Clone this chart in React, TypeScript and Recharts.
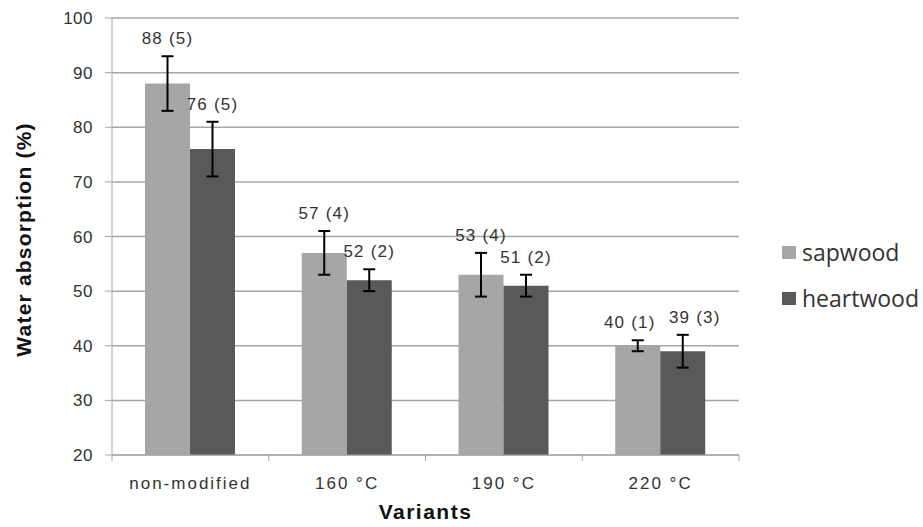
import { BarChart, Bar, XAxis, YAxis, CartesianGrid, ErrorBar, LabelList } from 'recharts'

const categories = ['non-modified', '160 °C', '190 °C', '220 °C']
const sapwood = [88, 57, 53, 40]
const heartwood = [76, 52, 51, 39]
const sapwoodSd = [5, 4, 4, 1]
const heartwoodSd = [5, 2, 2, 3]
const yTicks = [20, 30, 40, 50, 60, 70, 80, 90, 100]

const data = categories.map((name, i) => ({
  name,
  sapwood: sapwood[i],
  heartwood: heartwood[i],
  sapwoodSd: sapwoodSd[i],
  heartwoodSd: heartwoodSd[i]
}))

const W = 923
const H = 527
const MARGIN = { top: 18, right: 184, left: 0, bottom: 0 }
const Y_AXIS_W = 112
const X_AXIS_H = 72
const Y_MIN = 20

const SAP = '#a6a6a6'
const HEART = '#595959'
const GRID = '#a6a6a6'
const TEXT = '#333'
const FONT = '"Liberation Sans", Arial, sans-serif'

const plotW = W - MARGIN.left - MARGIN.right - Y_AXIS_W

// Excel pushed the two labels of the last group apart
const sapNudge = [0, 0, 0, -8]
const heartNudge = [0, 0, 0, 12]

// value label sits above the top of the error bar
const makeValueLabel = (sd: number[], nudge: number[]) => (props: any) => {
  const x = Number(props.x)
  const y = Number(props.y)
  const width = Number(props.width)
  const height = Number(props.height)
  const value = Number(props.value)
  const idx = props.index as number
  const perUnit = height / (value - Y_MIN)
  const top = y - sd[idx] * perUnit
  return (
    <text
      x={x + width / 2 + nudge[idx]}
      y={top - 12}
      textAnchor="middle"
      fontFamily={FONT}
      fontSize={17}
      letterSpacing={1.2}
      fill={TEXT}
    >
      {`${value} (${sd[idx]})`}
    </text>
  )
}

function CategoryTick(props: any) {
  const { x, y, payload, index } = props
  const half = plotW / categories.length / 2
  return (
    <g>
      {index === 0 && <line x1={x - half} y1={y} x2={x - half} y2={y + 6} stroke={GRID} />}
      <line x1={x + half} y1={y} x2={x + half} y2={y + 6} stroke={GRID} />
      <text
        x={x}
        y={y + 34}
        textAnchor="middle"
        fontFamily={FONT}
        fontSize={17}
        letterSpacing={2}
        fill={TEXT}
      >
        {payload.value}
      </text>
    </g>
  )
}

function LegendBox() {
  const items = [
    { label: 'sapwood', color: SAP },
    { label: 'heartwood', color: HEART }
  ]
  return (
    <div
      style={{
        position: 'absolute',
        left: 782,
        top: 229,
        fontFamily: '"Open Sans", sans-serif',
        fontSize: 23,
        color: '#333'
      }}
    >
      {items.map((it) => (
        <div key={it.label} style={{ display: 'flex', alignItems: 'center', height: 46 }}>
          <span
            style={{ display: 'inline-block', width: 14, height: 13, background: it.color, marginRight: 6 }}
          />
          <span>{it.label}</span>
        </div>
      ))}
    </div>
  )
}

export default function App() {
  return (
    <div style={{ position: 'absolute', left: 0, top: 0, width: W, height: H, background: '#fff' }}>
      <BarChart width={W} height={H} data={data} margin={MARGIN} barGap={0} barSize={45}>
        <CartesianGrid vertical={false} stroke={GRID} strokeWidth={1.5} />
        <XAxis
          dataKey="name"
          height={X_AXIS_H}
          stroke={GRID}
          tickLine={false}
          tickSize={0}
          tickMargin={0}
          interval={0}
          tick={<CategoryTick />}
          label={{
            content: (p: any) => {
              const vb = p.viewBox
              return (
                <text
                  x={vb.x + vb.width / 2}
                  y={519}
                  textAnchor="middle"
                  fontFamily={FONT}
                  fontWeight="bold"
                  fontSize={21}
                  letterSpacing={1.5}
                  fill="#111"
                >
                  Variants
                </text>
              )
            }
          }}
        />
        <YAxis
          width={Y_AXIS_W}
          domain={[20, 100]}
          ticks={yTicks}
          interval={0}
          stroke={GRID}
          tickSize={7}
          tickMargin={12}
          tick={{ fontFamily: FONT, fontSize: 17, fill: TEXT, letterSpacing: 0.5 }}
          label={{
            content: (p: any) => {
              const vb = p.viewBox
              const cy = vb.y + vb.height / 2 + 3
              return (
                <text
                  x={23}
                  y={cy}
                  transform={`rotate(-90, 23, ${cy})`}
                  textAnchor="middle"
                  dominantBaseline="central"
                  fontFamily={FONT}
                  fontWeight="bold"
                  fontSize={21}
                  letterSpacing={1.2}
                  fill="#111"
                >
                  Water absorption (%)
                </text>
              )
            }
          }}
        />
        <Bar dataKey="sapwood" name="sapwood" fill={SAP} isAnimationActive={false}>
          <ErrorBar dataKey="sapwoodSd" width={6} strokeWidth={2} stroke="#000" />
          <LabelList dataKey="sapwood" content={makeValueLabel(sapwoodSd, sapNudge)} />
        </Bar>
        <Bar dataKey="heartwood" name="heartwood" fill={HEART} isAnimationActive={false}>
          <ErrorBar dataKey="heartwoodSd" width={6} strokeWidth={2} stroke="#000" />
          <LabelList dataKey="heartwood" content={makeValueLabel(heartwoodSd, heartNudge)} />
        </Bar>
      </BarChart>
      <LegendBox />
    </div>
  )
}
